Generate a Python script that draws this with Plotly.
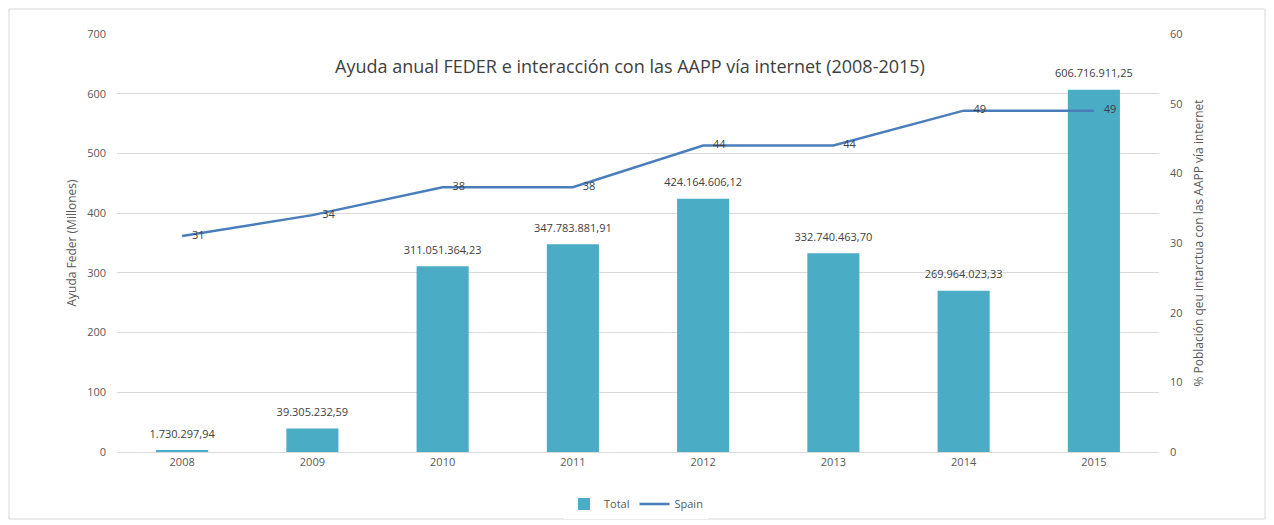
import plotly.graph_objects as go

years = ["2008", "2009", "2010", "2011", "2012", "2013", "2014", "2015"]
ayuda_millones = [1.73029794, 39.30523259, 311.05136423, 347.78388191, 424.16460612, 332.74046370, 269.96402333, 606.71691125]
ayuda_labels = ["1.730.297,94", "39.305.232,59", "311.051.364,23", "347.783.881,91",
                "424.164.606,12", "332.740.463,70", "269.964.023,33", "606.716.911,25"]
spain_pct = [31, 34, 38, 38, 44, 44, 49, 49]

FONT = "Open Sans"
TXT = "#595959"
LBL = "#404040"

# The page body has an 8px margin, so the figure is 8px smaller than the window
W, H = 1266, 517
L, R, T, B = 109, 115, 26, 73
PW, PH = W - L - R, H - T - B

fig = go.Figure()
fig.add_trace(go.Bar(
    x=years, y=ayuda_millones, name="Total",
    marker=dict(color="#4BACC6", line=dict(width=0)),
))
fig.add_trace(go.Scatter(
    x=years, y=spain_pct, name="Spain", yaxis="y2",
    mode="lines", line=dict(color="#4A7EBB", width=2.5),
))
# bar value labels
fig.add_trace(go.Scatter(
    x=years, y=ayuda_millones, mode="markers+text", text=ayuda_labels,
    marker=dict(size=14, color="rgba(0,0,0,0)"),
    textposition="top center", showlegend=False, hoverinfo="skip", cliponaxis=False,
    textfont=dict(family=FONT, size=11, color=LBL),
))
# line value labels
fig.add_trace(go.Scatter(
    x=years, y=spain_pct, yaxis="y2", mode="markers+text", text=[str(v) for v in spain_pct],
    marker=dict(size=14, color="rgba(0,0,0,0)"),
    textposition="middle right", showlegend=False, hoverinfo="skip", cliponaxis=False,
    textfont=dict(family=FONT, size=11, color=LBL),
))

fig.update_layout(
    width=W, height=H,
    margin=dict(l=L, r=R, t=T, b=B, autoexpand=False),
    paper_bgcolor="white", plot_bgcolor="white",
    font=dict(family=FONT, size=11, color=TXT),
    title=dict(text="Ayuda anual FEDER e interacción con las AAPP vía internet (2008-2015)",
               x=(622 - L) / PW, xref="paper", xanchor="center",
               y=1 - 59 / H, yref="container", yanchor="middle",
               font=dict(family=FONT, size=18, color="#404040")),
    bargap=0.6,
    showlegend=True,
    legend=dict(orientation="h", x=(628 - L) / PW, xanchor="center", y=(444 - 496) / PH, yanchor="middle",
                font=dict(family=FONT, size=11, color=TXT), traceorder="normal"),
    xaxis=dict(showline=True, linecolor="#d9d9d9", ticks="", tickfont=dict(size=11, color=TXT),
               showgrid=False, automargin=False),
    yaxis=dict(range=[0, 700], dtick=100, showgrid=True, gridcolor="#d9d9d9", zeroline=False,
               showline=False, ticks="", tickfont=dict(size=11, color=TXT), ticklabelstandoff=10,
               automargin=False,
               title=dict(text="Ayuda Feder (Millones)", font=dict(size=12, color=TXT), standoff=7)),
    yaxis2=dict(range=[0, 60], dtick=10, overlaying="y", side="right", showgrid=False,
                zeroline=False, showline=False, ticks="", tickfont=dict(size=11, color=TXT),
                ticklabelstandoff=10, automargin=False,
                title=dict(text="% Población qeu intarctua con las AAPP vía internet",
                           font=dict(size=12, color=TXT), standoff=13)),
    shapes=[dict(type="rect", xref="paper", yref="paper",
                 x0=(1 - L) / PW, x1=(1257 - L) / PW,
                 y0=(T + PH - 511) / PH, y1=(T + PH - 1) / PH,
                 line=dict(color="#d9d9d9", width=1), layer="below")],
)

fig.write_html("out.html")
